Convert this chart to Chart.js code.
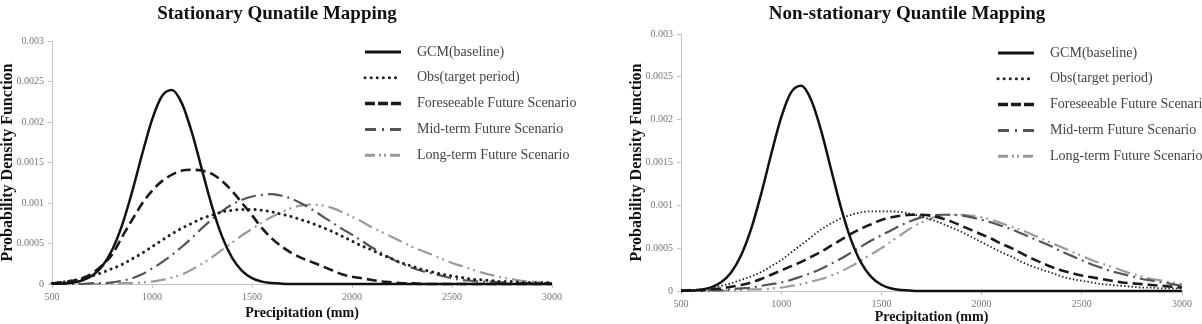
<!DOCTYPE html>
<html>
<head>
<meta charset="utf-8">
<title>Quantile Mapping PDFs</title>
<script src="https://cdn.jsdelivr.net/npm/chart.js@4.4.0/dist/chart.umd.min.js"></script>
<style>
  body { margin: 0; background: #fff; }
  #stationaryChart { position: absolute; left: 0; top: 0; }
  #nonStationaryChart { position: absolute; left: 600px; top: 0; }
</style>
</head>
<body>
<canvas id="stationaryChart" width="600" height="324"></canvas>
<canvas id="nonStationaryChart" width="602" height="324"></canvas>
<script>
// ---- data ----
const precip = [500, 550, 600, 650, 700, 750, 800, 850, 900, 950,
  1000, 1050, 1100, 1150, 1200, 1250, 1300, 1350, 1400, 1450,
  1500, 1550, 1600, 1650, 1700, 1750, 1800, 1850, 1900, 1950,
  2000, 2050, 2100, 2150, 2200, 2250, 2300, 2350, 2400, 2450,
  2500, 2550, 2600, 2650, 2700, 2750, 2800, 2850, 2900, 2950, 3000];

const seriesNames = ['GCM(baseline)', 'Obs(target period)', 'Foreseeable Future Scenario',
  'Mid-term Future Scenario', 'Long-term Future Scenario'];

const xTickLabels = ['500', '1000', '1500', '2000', '2500', '3000'];
const yTickLabels = ['0', '0.0005', '0.001', '0.0015', '0.002', '0.0025', '0.003'];

// same baseline GCM curve in both panels
const gcmBaseline = [0.000002, 0.000006, 0.000016, 0.000043, 0.000101, 0.000217, 0.000417, 0.000724, 0.001133, 0.001596,
  0.002027, 0.002321, 0.002395, 0.002227, 0.001866, 0.001409, 0.000959, 0.000588, 0.000325, 0.000162,
  0.000073, 0.000029, 0.000011, 0.000004, 0.000001, 0, 0, 0, 0, 0,
  0, 0, 0, 0, 0, 0, 0, 0, 0, 0,
  0, 0, 0, 0, 0, 0, 0, 0, 0, 0, 0];

// stationary quantile mapping
const statObs = [0.00001, 0.00002, 0.00004, 0.00006, 0.00010, 0.00014, 0.00019, 0.00024, 0.00031, 0.00038,
  0.00046, 0.00054, 0.00062, 0.00069, 0.00075, 0.00081, 0.00085, 0.00089, 0.00091, 0.00092,
  0.00092, 0.00091, 0.00089, 0.00086, 0.00083, 0.00079, 0.00075, 0.00070, 0.00065, 0.00059,
  0.00053, 0.00047, 0.00042, 0.00036, 0.00031, 0.00026, 0.00022, 0.00018, 0.00015, 0.00012,
  0.00010, 0.00008, 0.00006, 0.00005, 0.00004, 0.00003, 0.00003, 0.00002, 0.00002, 0.00002, 0.00001];
const statForeseeable = [0.00001, 0.00002, 0.00004, 0.00007, 0.00013, 0.00023, 0.00036, 0.00058, 0.00079, 0.00099,
  0.00115, 0.00127, 0.00135, 0.00140, 0.00141, 0.00140, 0.00136, 0.00127, 0.00115, 0.00100,
  0.00085, 0.00069, 0.00056, 0.00046, 0.00038, 0.00032, 0.00027, 0.00022, 0.00017, 0.00012,
  0.00009, 0.00007, 0.00005, 0.00003, 0.00002, 0.00001, 0.00001, 0, 0, 0,
  0, 0, 0, 0, 0, 0, 0, 0, 0, 0, 0];
const statMidTerm = [0, 0, 0, 0, 0.00001, 0.00001, 0.00002, 0.00004, 0.00007, 0.00012,
  0.00019, 0.00027, 0.00036, 0.00046, 0.00057, 0.00069, 0.00080, 0.00090, 0.00098, 0.00104,
  0.00108, 0.00110, 0.00111, 0.00109, 0.00105, 0.00099, 0.00092, 0.00084, 0.00076, 0.00068,
  0.00061, 0.00053, 0.00045, 0.00038, 0.00031, 0.00025, 0.00020, 0.00016, 0.00013, 0.00010,
  0.00007, 0.00005, 0.00004, 0.00003, 0.00003, 0.00002, 0.00002, 0.00001, 0.00001, 0.00001, 0.00001];
const statLongTerm = [0, 0, 0, 0, 0, 0, 0, 0.00001, 0.00001, 0.00002,
  0.00003, 0.00005, 0.00008, 0.00012, 0.00018, 0.00025, 0.00033, 0.00042, 0.00051, 0.00060,
  0.00068, 0.00076, 0.00083, 0.00089, 0.00094, 0.00097, 0.00098, 0.00097, 0.00094, 0.00089,
  0.00083, 0.00077, 0.00070, 0.00064, 0.00058, 0.00052, 0.00046, 0.00041, 0.00036, 0.00031,
  0.00026, 0.00022, 0.00018, 0.00014, 0.00011, 0.00008, 0.00006, 0.00004, 0.00003, 0.00002, 0.00001];

// non-stationary quantile mapping
const nonStatObs = [0.00001, 0.00001, 0.00002, 0.00004, 0.00006, 0.00009, 0.00013, 0.00017, 0.00022, 0.00029,
  0.00036, 0.00045, 0.00054, 0.00063, 0.00072, 0.00079, 0.00085, 0.00089, 0.00092, 0.00093,
  0.00093, 0.00093, 0.00092, 0.00090, 0.00087, 0.00083, 0.00079, 0.00074, 0.00069, 0.00063,
  0.00057, 0.00051, 0.00045, 0.00040, 0.00034, 0.00029, 0.00025, 0.00021, 0.00017, 0.00014,
  0.00012, 0.00010, 0.00008, 0.00007, 0.00006, 0.00005, 0.00004, 0.00004, 0.00003, 0.00003, 0.00003];
const nonStatForeseeable = [0, 0.00001, 0.00001, 0.00002, 0.00003, 0.00005, 0.00007, 0.00010, 0.00014, 0.00019,
  0.00024, 0.00029, 0.00034, 0.00040, 0.00046, 0.00053, 0.00060, 0.00067, 0.00073, 0.00078,
  0.00083, 0.00086, 0.00088, 0.00089, 0.00089, 0.00088, 0.00085, 0.00081, 0.00076, 0.00071,
  0.00066, 0.00061, 0.00055, 0.00050, 0.00044, 0.00038, 0.00033, 0.00028, 0.00024, 0.00021,
  0.00018, 0.00016, 0.00014, 0.00012, 0.00010, 0.00009, 0.00008, 0.00007, 0.00006, 0.00005, 0.00004];
const nonStatMidTerm = [0, 0, 0, 0.00001, 0.00001, 0.00002, 0.00003, 0.00004, 0.00006, 0.00008,
  0.00010, 0.00013, 0.00017, 0.00021, 0.00026, 0.00032, 0.00038, 0.00045, 0.00052, 0.00059,
  0.00065, 0.00071, 0.00077, 0.00082, 0.00086, 0.00088, 0.00089, 0.00089, 0.00088, 0.00086,
  0.00083, 0.00080, 0.00076, 0.00072, 0.00067, 0.00062, 0.00057, 0.00052, 0.00046, 0.00041,
  0.00036, 0.00031, 0.00027, 0.00023, 0.00020, 0.00017, 0.00014, 0.00012, 0.00010, 0.00008, 0.00006];
const nonStatLongTerm = [0, 0, 0, 0, 0, 0.00001, 0.00001, 0.00002, 0.00002, 0.00003,
  0.00004, 0.00006, 0.00008, 0.00011, 0.00014, 0.00018, 0.00023, 0.00029, 0.00036, 0.00043,
  0.00050, 0.00058, 0.00066, 0.00074, 0.00080, 0.00085, 0.00088, 0.00089, 0.00089, 0.00088,
  0.00086, 0.00083, 0.00079, 0.00075, 0.00071, 0.00066, 0.00061, 0.00056, 0.00051, 0.00046,
  0.00041, 0.00036, 0.00032, 0.00028, 0.00024, 0.00020, 0.00017, 0.00014, 0.00012, 0.00010, 0.00008];

// ---- styles ----
const SERIF = '"Liberation Serif", "Times New Roman", serif';

// line looks for the five series; the right panel uses a finer dotted line
function seriesStyles(fineDots) {
  return [
    { color: '#111', width: 2.5, dash: [], cap: 'butt', legendDash: [], legendWidth: 3 },
    fineDots
      ? { color: '#222', width: 1.8, dash: [1.5, 2.2], cap: 'butt', legendDash: [0.1, 6], legendWidth: 3, legendCap: 'round' }
      : { color: '#222', width: 3, dash: [0.1, 6], cap: 'round', legendDash: [0.1, 6], legendWidth: 3, legendCap: 'round' },
    { color: '#1a1a1a', width: 2.6, dash: [10, 5], cap: 'butt', legendDash: [10, 3], legendWidth: 3.5 },
    { color: '#555', width: 2.2, dash: [15, 5, 2, 5], cap: 'butt', legendDash: [11, 6, 2, 6], legendWidth: 3 },
    { color: '#9a9a9a', width: 2.2, dash: [15, 5, 2, 4, 2, 5], cap: 'butt', legendDash: [10, 4, 2, 3, 2, 4], legendWidth: 3 }
  ];
}

// title drawn at a fixed spot (it sits left of the plot centre in the source)
const panelTitle = {
  id: 'panelTitle',
  afterDraw(chart, args, opts) {
    const ctx = chart.ctx;
    ctx.save();
    ctx.font = 'bold 19px ' + SERIF;
    ctx.fillStyle = '#111';
    ctx.textAlign = 'center';
    ctx.textBaseline = 'middle';
    ctx.fillText(opts.text, opts.x, opts.y);
    ctx.restore();
  }
};

// legend inside the plot, top right, one row per series
const cornerLegend = {
  id: 'cornerLegend',
  afterDraw(chart, args, opts) {
    const ctx = chart.ctx;
    ctx.save();
    chart.data.datasets.forEach((ds, i) => {
      const y = opts.top + i * opts.step;
      ctx.beginPath();
      ctx.setLineDash(ds.legendDash);
      ctx.lineCap = ds.legendCap || 'butt';
      ctx.lineWidth = ds.legendWidth;
      ctx.strokeStyle = ds.borderColor;
      ctx.moveTo(opts.x, y);
      ctx.lineTo(opts.x + 36, y);
      ctx.stroke();
      ctx.setLineDash([]);
      ctx.font = '14px ' + SERIF;
      ctx.fillStyle = '#444';
      ctx.textAlign = 'left';
      ctx.textBaseline = 'middle';
      ctx.fillText(ds.label, opts.x + 52, y);
    });
    ctx.restore();
  }
};

function buildDatasets(seriesList, styles) {
  return seriesList.map((values, i) => ({
    label: seriesNames[i],
    data: precip.map((p, j) => ({ x: p, y: values[j] })),
    borderColor: styles[i].color,
    borderWidth: styles[i].width,
    borderDash: styles[i].dash,
    borderCapStyle: styles[i].cap,
    legendDash: styles[i].legendDash,
    legendWidth: styles[i].legendWidth,
    legendCap: styles[i].legendCap,
    pointRadius: 0,
    fill: false,
    cubicInterpolationMode: 'monotone',
    clip: 6
  }));
}

function makePanel(canvasId, seriesList, cfg) {
  const axisGray = '#c4c4c4';
  new Chart(document.getElementById(canvasId), {
    type: 'line',
    data: { datasets: buildDatasets(seriesList, seriesStyles(cfg.fineDots)) },
    plugins: [panelTitle, cornerLegend],
    options: {
      responsive: false,
      animation: false,
      events: [],
      layout: { padding: { left: 0, right: cfg.padRight, top: cfg.padTop, bottom: 0 } },
      plugins: {
        legend: { display: false },
        tooltip: { enabled: false },
        panelTitle: { text: cfg.title, x: cfg.titleX, y: 14 },
        cornerLegend: { x: cfg.legendX, top: cfg.legendTop, step: 25.8 }
      },
      scales: {
        x: {
          type: 'linear',
          min: 500,
          max: 3000,
          grid: { display: true, drawOnChartArea: false, drawTicks: true, tickLength: 4, color: axisGray },
          border: { color: axisGray },
          ticks: {
            stepSize: 500,
            padding: 3,
            maxRotation: 0,
            color: '#777',
            font: { family: SERIF, size: 10 },
            callback: (v, i) => xTickLabels[i]
          },
          title: {
            display: true,
            text: 'Precipitation (mm)',
            color: '#111',
            font: { family: SERIF, size: 14, weight: 'bold', lineHeight: 1 },
            padding: { top: 0, bottom: cfg.xTitlePad }
          },
          afterFit: (s) => { s.height = cfg.xHeight; }
        },
        y: {
          min: 0,
          max: 0.003,
          grid: { display: true, drawOnChartArea: false, drawTicks: true, tickLength: 4, color: axisGray },
          border: { color: axisGray },
          ticks: {
            stepSize: 0.0005,
            padding: 4,
            color: '#777',
            font: { family: SERIF, size: 10 },
            callback: (v, i) => yTickLabels[i]
          },
          title: {
            display: true,
            text: 'Probability Density Function',
            color: '#111',
            font: { family: SERIF, size: 16, weight: 'bold', lineHeight: 1 },
            padding: { top: cfg.yTitlePad, bottom: 0 }
          },
          afterFit: (s) => { s.width = cfg.yWidth; }
        }
      }
    }
  });
}

makePanel('stationaryChart',
  [gcmBaseline, statObs, statForeseeable, statMidTerm, statLongTerm],
  {
    title: 'Stationary Qunatile Mapping', titleX: 277,
    fineDots: false,
    padRight: 48, padTop: 41,
    yWidth: 52, xHeight: 40,
    yTitlePad: 0, xTitlePad: 4,
    legendX: 365, legendTop: 52
  });

makePanel('nonStationaryChart',
  [gcmBaseline, nonStatObs, nonStatForeseeable, nonStatMidTerm, nonStatLongTerm],
  {
    title: 'Non-stationary Quantile Mapping', titleX: 307,
    fineDots: true,
    padRight: 20, padTop: 34,
    yWidth: 81, xHeight: 33,
    yTitlePad: 29, xTitlePad: 0,
    legendX: 398, legendTop: 53
  });
</script>
</body>
</html>
